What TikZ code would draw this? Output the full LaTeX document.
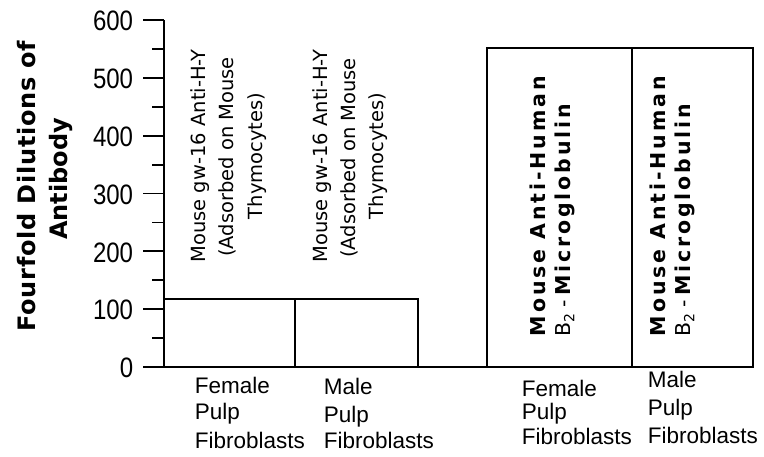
\documentclass[tikz,border=0pt]{standalone}
\usepackage{fontspec}
\usepackage{graphicx}
\setmainfont{DejaVu Sans}
\newfontfamily\titlefontA[LetterSpace=3]{DejaVu Sans}
\newfontfamily\titlefontB{DejaVu Sans}
\newfontfamily\barboldfont[LetterSpace=14]{DejaVu Sans}
\newfontfamily\plainfont{DejaVu Sans}
\newfontfamily\arialfont{Liberation Sans}
\newcommand{\btwo}{{\mdseries\fontsize{20.5}{24}\plainfont B\raisebox{-0.4ex}{\fontsize{14}{16}\selectfont 2}\hspace{6pt}-}\hspace{4pt}}
\begin{document}
\begin{tikzpicture}[x=1pt,y=-1pt,line width=1.8pt,
  ytitleA/.style={rotate=90,anchor=base,inner sep=0pt,font=\fontsize{24}{28}\titlefontA\bfseries},
  ytitleB/.style={rotate=90,anchor=base,inner sep=0pt,font=\fontsize{24}{28}\titlefontB\bfseries},
  ticklabel/.style={anchor=east,inner sep=0pt,font=\fontsize{24}{28}\arialfont},
  barnote/.style={rotate=90,anchor=base,inner sep=0pt,font=\fontsize{19.5}{24}\plainfont},
  barbold/.style={rotate=90,anchor=base west,inner sep=0pt,font=\fontsize{20.5}{24}\barboldfont\bfseries},
  catlabel/.style={anchor=base west,inner sep=0pt,font=\fontsize{22.5}{28}\arialfont},
  barbox/.style={draw=black,line width=1.8pt}]
\useasboundingbox (0,0) rectangle (764,457);
\fill[white] (0,0) rectangle (764,457);

% axis title
\node[ytitleA] (ytitle1) at (35,186) {Fourfold Dilutions of};
\node[ytitleB] (ytitle2) at (67,179) {Antibody};

% axes
\draw (164,20) -- (164,367);
\draw (143,367) -- (753,367);
\foreach \v in {0,100,...,600}{
  \draw (143,{367-0.578*\v}) -- (164,{367-0.578*\v});
  \node[ticklabel] (tick\v) at (134,{368-0.578*\v}) {\scalebox{1}[1.17]{\v}};
}
\foreach \v in {50,150,...,550}{
  \draw (152,{367-0.578*\v}) -- (164,{367-0.578*\v});
}

% bars
\draw[barbox] (164,299) rectangle (295,367);
\draw[barbox] (295,299) rectangle (418,367);
\draw[barbox] (487,48) rectangle (632,367);
\draw[barbox] (632,48) rectangle (753,367);

% labels in bars 1 and 2
\node[barnote] (b1l1) at (205,156) {Mouse gw-16 Anti-H-Y};
\node[barnote] (b1l2) at (233,157) {(Adsorbed on Mouse};
\node[barnote] (b1l3) at (262,156) {Thymocytes)};
\node[barnote] (b2l1) at (327,156) {Mouse gw-16 Anti-H-Y};
\node[barnote] (b2l2) at (355,158) {(Adsorbed on Mouse};
\node[barnote] (b2l3) at (383,156) {Thymocytes)};

% labels in bars 3 and 4
\node[barbold] (b3l1) at (545,337) {Mouse Anti-Human};
\node[barbold] (b3l2) at (570,337) {\btwo Microglobulin};
\node[barbold] (b4l1) at (665,337) {Mouse Anti-Human};
\node[barbold] (b4l2) at (690,337) {\btwo Microglobulin};

% category labels
\node[catlabel] (c1a) at (194,393) {Female};
\node[catlabel] (c1b) at (194,420) {Pulp};
\node[catlabel] (c1c) at (194,448) {Fibroblasts};
\node[catlabel] (c2a) at (323,395) {Male};
\node[catlabel] (c2b) at (323,422) {Pulp};
\node[catlabel] (c2c) at (323,448) {Fibroblasts};
\node[catlabel] (c3a) at (521,396) {Female};
\node[catlabel] (c3b) at (521,419) {Pulp};
\node[catlabel] (c3c) at (521,444) {Fibroblasts};
\node[catlabel] (c4a) at (647,388) {Male};
\node[catlabel] (c4b) at (647,415) {Pulp};
\node[catlabel] (c4c) at (647,443) {Fibroblasts};
\end{tikzpicture}
\end{document}
